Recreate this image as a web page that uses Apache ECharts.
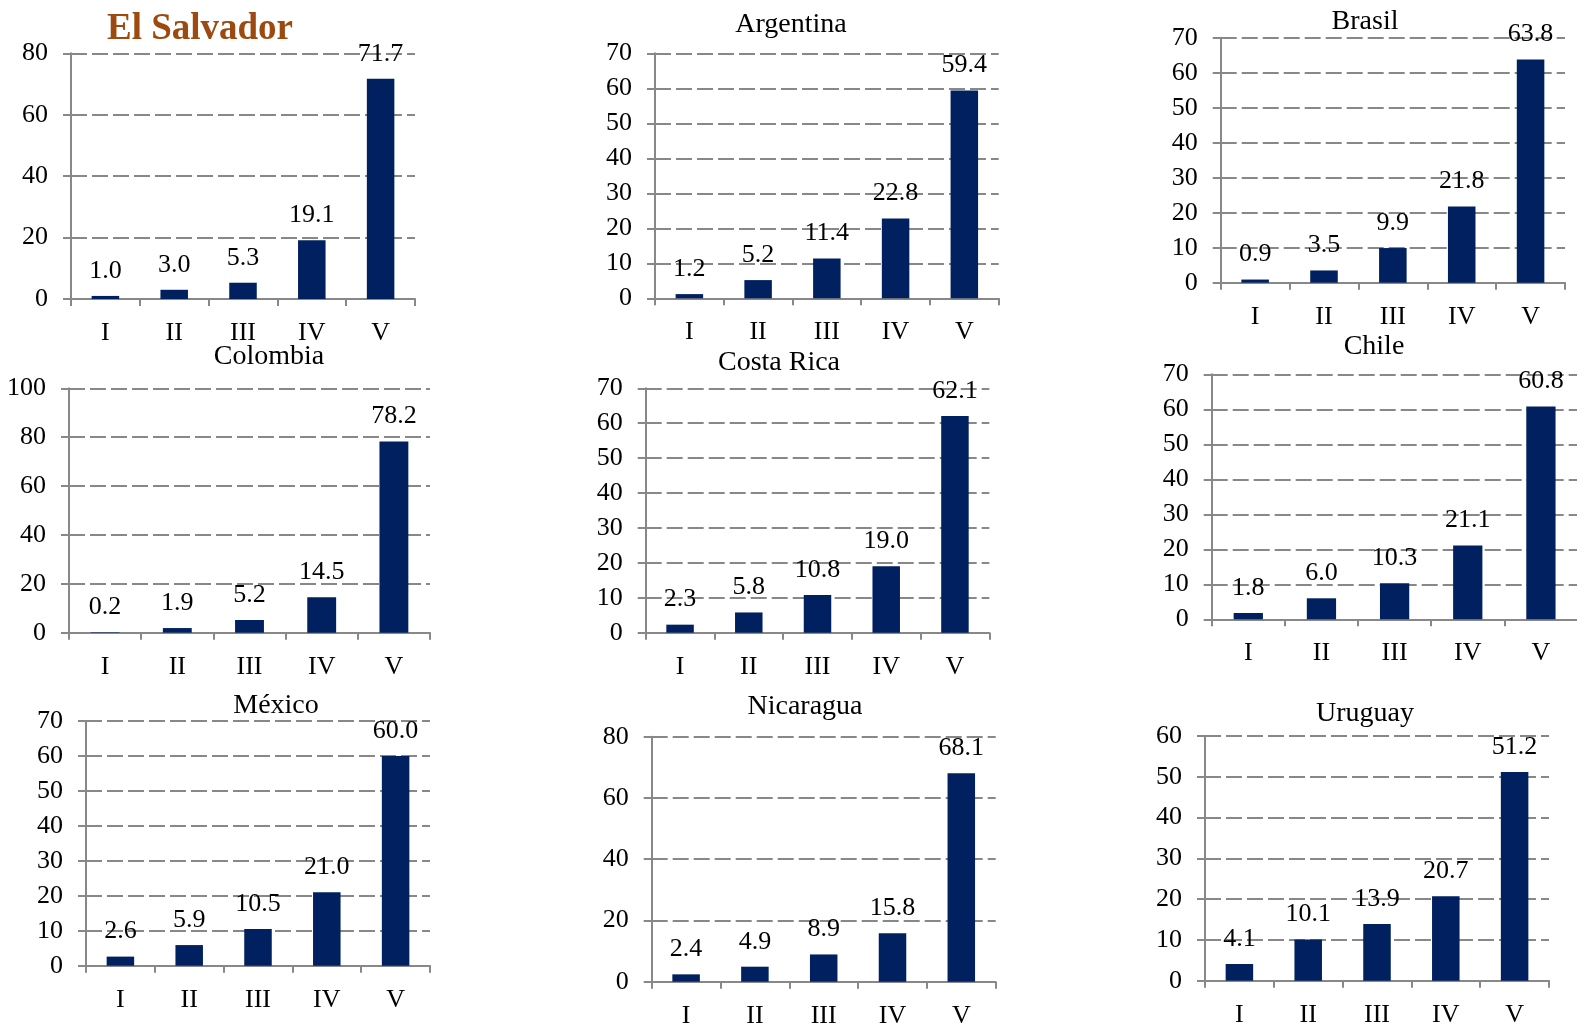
<!DOCTYPE html>
<html>
<head>
<meta charset="utf-8">
<script src="https://cdn.jsdelivr.net/npm/echarts@6/dist/echarts.min.js"></script>
<style>
  html, body { margin: 0; padding: 0; background: #ffffff; }
  #chart { width: 1577px; height: 1023px; }
</style>
</head>
<body>
<div id="chart"></div>
<script>
// Quintile categories shared by every panel
const categories = ['I', 'II', 'III', 'IV', 'V'];

// Country names, in panel order (row by row)
const countries = ['El Salvador', 'Argentina', 'Brasil', 'Colombia', 'Costa Rica', 'Chile', 'México', 'Nicaragua', 'Uruguay'];

// Values per quintile for each country
const elSalvador = [1.0, 3.0, 5.3, 19.1, 71.7];
const argentina  = [1.2, 5.2, 11.4, 22.8, 59.4];
const brasil     = [0.9, 3.5, 9.9, 21.8, 63.8];
const colombia   = [0.2, 1.9, 5.2, 14.5, 78.2];
const costaRica  = [2.3, 5.8, 10.8, 19.0, 62.1];
const chile      = [1.8, 6.0, 10.3, 21.1, 60.8];
const mexico     = [2.6, 5.9, 10.5, 21.0, 60.0];
const nicaragua  = [2.4, 4.9, 8.9, 15.8, 68.1];
const uruguay    = [4.1, 10.1, 13.9, 20.7, 51.2];

// Value-axis ranges (max and tick step) per panel
const axisMax  = [80, 70, 70, 100, 70, 70, 70, 80, 60];
const axisStep = [20, 10, 10, 20, 10, 10, 10, 20, 10];

const seriesData = [elSalvador, argentina, brasil, colombia, costaRica, chile, mexico, nicaragua, uruguay];

// Plot rectangles: [left, top, right, bottom] in page pixels
const plotBoxes = [
  [71, 53.3, 415, 299],
  [655, 53.3, 998.7, 298.3],
  [1220.7, 37.7, 1565, 282.7],
  [69, 388.3, 430, 632.7],
  [645.7, 388.3, 989.3, 632.7],
  [1211.7, 374.3, 1577.5, 619.3],
  [86, 721, 430, 965.7],
  [651.7, 736.7, 995.7, 981.7],
  [1205, 736, 1549, 980.7]
];
// Title centres [x, y]
const titlePos = [
  [200, 29.5], [791, 24.2], [1365, 21.2],
  [269, 356.7], [779, 362.8], [1374, 347],
  [276, 705.8], [805, 707], [1365, 713.8]
];

const FONT = '"Liberation Serif", "Times New Roman", serif';
const GRAY = '#888888';
const BAR = '#002060';

const grids = [], xAxes = [], yAxes = [], series = [], titles = [];

countries.forEach(function (name, i) {
  const b = plotBoxes[i];
  grids.push({
    left: b[0], top: b[1], width: b[2] - b[0], height: b[3] - b[1],
    containLabel: false,
    // the bottom row's labels run to the page edge; keep the plot size fixed
    outerBoundsMode: 'none'
  });

  xAxes.push({
    type: 'category', gridIndex: i, data: categories,
    axisLine: { show: true, lineStyle: { color: GRAY, width: 2 } },
    axisTick: { show: true, length: 7, lineStyle: { color: GRAY, width: 2 } },
    axisLabel: { color: '#000', fontFamily: FONT, fontSize: 26, margin: 21 }
  });

  yAxes.push({
    type: 'value', gridIndex: i, min: 0, max: axisMax[i], interval: axisStep[i],
    axisLine: { show: true, lineStyle: { color: GRAY, width: 2 } },
    axisTick: { show: true, length: 8, lineStyle: { color: GRAY, width: 2 } },
    axisLabel: { color: '#000', fontFamily: FONT, fontSize: 26, margin: 23 },
    splitLine: { show: true, lineStyle: { color: GRAY, width: 2, type: [16, 5] } }
  });

  series.push({
    type: 'bar', xAxisIndex: i, yAxisIndex: i, data: seriesData[i],
    barWidth: '40%',
    itemStyle: { color: BAR },
    label: {
      show: true, position: 'top', distance: 12,
      color: '#000', fontFamily: FONT, fontSize: 26,
      formatter: function (p) { return p.value.toFixed(1); }
    },
    animation: false
  });

  const isFirst = i === 0;
  titles.push({
    text: name,
    left: titlePos[i][0], top: titlePos[i][1],
    textAlign: 'center', textVerticalAlign: 'middle',
    padding: 0,
    textStyle: {
      fontFamily: FONT,
      fontSize: isFirst ? 37 : 28,
      fontWeight: isFirst ? 'bold' : 'normal',
      color: isFirst ? '#9C4A0F' : '#000'
    }
  });
});

const chart = echarts.init(document.getElementById('chart'), null, { renderer: 'canvas' });
chart.setOption({
  animation: false,
  backgroundColor: '#ffffff',
  title: titles,
  grid: grids,
  xAxis: xAxes,
  yAxis: yAxes,
  series: series
});
</script>
</body>
</html>
